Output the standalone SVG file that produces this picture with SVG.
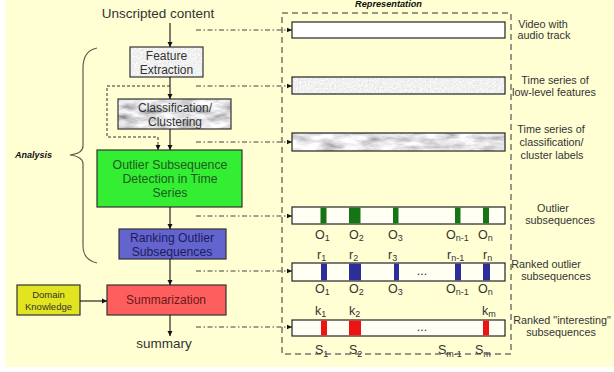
<svg xmlns="http://www.w3.org/2000/svg" width="614" height="372" viewBox="0 0 614 372">
<style>
text{font-family:"Liberation Sans",Arial,sans-serif;fill:#333}
.box{stroke:#333;stroke-width:1.2}
.bar{fill:#fffff4;stroke:#222;stroke-width:1.2}
.arr{stroke:#111;stroke-width:1.1;fill:none;marker-end:url(#ah)}
.dd{stroke:#444;stroke-width:1;fill:none;stroke-dasharray:5,2.5,1.5,2.5;marker-end:url(#ah2)}
.lbl{font-size:10.8px;text-anchor:middle}
.sym{font-size:12.5px}
.sub{font-size:9px}
.g{fill:#137513}.b{fill:#2e2e9a}.r{fill:#ee1414}
</style>
<defs>
<marker id="ah" markerWidth="6" markerHeight="6" refX="5" refY="3" orient="auto" markerUnits="userSpaceOnUse"><path d="M0,0.5 L5,3 L0,5.5 Z" fill="#111"/></marker>
<marker id="ah2" markerWidth="6" markerHeight="6" refX="5" refY="3" orient="auto" markerUnits="userSpaceOnUse"><path d="M0,0.8 L5,3 L0,5.2 Z" fill="#111"/></marker>
<filter id="speck" x="0" y="0" width="100%" height="100%">
<feTurbulence type="fractalNoise" baseFrequency="0.6" numOctaves="2" seed="2"/>
<feColorMatrix type="matrix" values="0.4 0 0 0 0.68  0.4 0 0 0 0.68  0.4 0 0 0 0.68  0 0 0 0 1"/>
<feComposite in2="SourceGraphic" operator="in"/>
</filter>
<filter id="marble" x="0" y="0" width="100%" height="100%">
<feTurbulence type="fractalNoise" baseFrequency="0.05 0.14" numOctaves="4" seed="7"/>
<feColorMatrix type="matrix" values="1.1 0 0 0 0.26  1.1 0 0 0 0.26  1.1 0 0 0 0.28  0 0 0 0 1"/>
<feComposite in2="SourceGraphic" operator="in"/>
</filter>
<filter id="marble2" x="0" y="0" width="100%" height="100%">
<feTurbulence type="fractalNoise" baseFrequency="0.05 0.14" numOctaves="4" seed="7"/>
<feColorMatrix type="matrix" values="1.3 0 0 0 0.08  1.3 0 0 0 0.08  1.3 0 0 0 0.1  0 0 0 0 1"/>
<feComposite in2="SourceGraphic" operator="in"/>
</filter>
</defs>
<rect x="0" y="0" width="614" height="372" fill="#ffffff"/>
<rect x="5" y="0" width="609" height="367" fill="#ffffd3"/>

<text x="158" y="18" style="font-size:13.5px" text-anchor="middle">Unscripted content</text>
<text x="164" y="348" style="font-size:13.5px" text-anchor="middle">summary</text>

<g id="brace">
<path d="M97,48 C87,50 83,57 83,68 L83,146 C83,151 78,154 70,155 C78,156 83,159 83,164 L83,246 C83,256 88,261 97,263" fill="none" stroke="#5e5e4a" stroke-width="1.2"/>
<text x="15" y="158" style="font-size:9px;font-weight:bold;font-style:italic;fill:#111">Analysis</text>
</g>

<g id="feature">
<rect x="130" y="47" width="73" height="30" fill="#fff" filter="url(#speck)"/>
<rect class="box" x="130" y="47" width="73" height="30" fill="none"/>
<text x="166.5" y="60" style="font-size:12px" text-anchor="middle">Feature</text>
<text x="166.5" y="74" style="font-size:12px" text-anchor="middle">Extraction</text>
</g>

<g id="classif">
<rect x="118" y="99" width="113" height="30" fill="#fff" filter="url(#marble2)"/>
<rect class="box" x="118" y="99" width="113" height="30" fill="none"/>
<text x="175" y="112" style="font-size:12px" text-anchor="middle">Classification/</text>
<text x="175" y="125.5" style="font-size:12px" text-anchor="middle">Clustering</text>
</g>

<g id="outlier">
<rect class="box" x="97" y="150" width="145" height="57" fill="#33ee33"/>
<text x="170" y="169" style="font-size:12.3px;fill:#1f5a1f" text-anchor="middle">Outlier Subsequence</text>
<text x="170" y="183" style="font-size:12.3px;fill:#1f5a1f" text-anchor="middle">Detection in Time</text>
<text x="170" y="197" style="font-size:12.3px;fill:#1f5a1f" text-anchor="middle">Series</text>
</g>

<g id="ranking">
<rect class="box" x="119" y="229" width="107" height="30" fill="#6464cf"/>
<text x="172" y="242" style="font-size:12.2px;fill:#1c1c5c" text-anchor="middle">Ranking Outlier</text>
<text x="172" y="255.5" style="font-size:12.2px;fill:#1c1c5c" text-anchor="middle">Subsequences</text>
</g>

<g id="summ">
<rect class="box" x="107" y="285" width="119" height="30" fill="#ff5e5e"/>
<text x="166" y="304" style="font-size:12px;fill:#6a1a1a" text-anchor="middle">Summarization</text>
</g>

<g id="domain">
<rect class="box" x="17" y="285" width="63" height="30" fill="#e1e41f"/>
<text x="48.5" y="298" style="font-size:9.5px" text-anchor="middle">Domain</text>
<text x="48.5" y="309.5" style="font-size:9.5px" text-anchor="middle">Knowledge</text>
</g>

<g id="connectors">
<line class="arr" x1="170" y1="23" x2="170" y2="47"/>
<line class="arr" x1="170" y1="77" x2="170" y2="99"/>
<line class="arr" x1="170" y1="129" x2="170" y2="150"/>
<line class="arr" x1="170" y1="207" x2="170" y2="229"/>
<line class="arr" x1="170" y1="259" x2="170" y2="285"/>
<line class="arr" x1="170" y1="315" x2="170" y2="336"/>
<line class="arr" x1="80" y1="301" x2="107" y2="301"/>
<path d="M170,86 L107,86 L107,137 L158,137 L158,150" fill="none" stroke="#333" stroke-width="1" stroke-dasharray="3,2" marker-end="url(#ah)"/>
<line class="dd" x1="196" y1="30" x2="292" y2="30"/>
<line class="dd" x1="196" y1="86" x2="292" y2="86"/>
<line class="dd" x1="196" y1="142" x2="292" y2="142"/>
<line class="dd" x1="196" y1="216" x2="292" y2="216"/>
<line class="dd" x1="196" y1="271" x2="292" y2="271"/>
<line class="dd" x1="196" y1="327" x2="292" y2="327"/>
</g>

<g id="representation">
<rect x="282" y="13" width="229" height="341" fill="none" stroke="#333" stroke-width="1" stroke-dasharray="6,4"/>
<text x="388.5" y="7" style="font-size:9.2px;font-weight:bold;font-style:italic;fill:#111" text-anchor="middle">Representation</text>
</g>

<g id="row1">
<rect x="292" y="22" width="213" height="16" fill="#fff" stroke="#222" stroke-width="1.2"/>
<text class="lbl" x="543" y="27.5">Video with</text>
<text class="lbl" x="544" y="39">audio track</text>
</g>

<g id="row2">
<rect x="292" y="77" width="213" height="17" fill="#fff" filter="url(#speck)"/>
<rect x="292" y="77" width="213" height="17" fill="none" stroke="#222" stroke-width="1.2"/>
<text class="lbl" x="555" y="84">Time series of</text>
<text class="lbl" x="554" y="95.5">low-level features</text>
</g>

<g id="row3">
<rect x="292" y="133" width="213" height="18" fill="#fff" filter="url(#marble)"/>
<rect x="292" y="133" width="213" height="18" fill="none" stroke="#222" stroke-width="1.2"/>
<text class="lbl" x="551" y="133">Time series of</text>
<text class="lbl" x="551.5" y="146">classification/</text>
<text class="lbl" x="552" y="159">cluster labels</text>
</g>

<g id="row4">
<rect class="bar" x="292" y="207" width="213" height="17"/>
<rect class="g" x="320.5" y="207.6" width="6" height="15.8"/>
<rect class="g" x="349" y="207.6" width="11.5" height="15.8"/>
<rect class="g" x="393" y="207.6" width="5.5" height="15.8"/>
<rect class="g" x="455" y="207.6" width="5.5" height="15.8"/>
<rect class="g" x="483" y="207.6" width="6" height="15.8"/>
<text class="sym" x="315" y="238.5">O<tspan class="sub" dy="2.5">1</tspan></text>
<text class="sym" x="349" y="238.5">O<tspan class="sub" dy="2.5">2</tspan></text>
<text class="sym" x="388" y="238.5">O<tspan class="sub" dy="2.5">3</tspan></text>
<text class="sym" x="446" y="238.5">O<tspan class="sub" dy="2.5">n-1</tspan></text>
<text class="sym" x="478" y="238.5">O<tspan class="sub" dy="2.5">n</tspan></text>
<text class="lbl" x="553" y="211.5">Outlier</text>
<text class="lbl" x="560" y="223.5">subsequences</text>
</g>

<g id="row5">
<rect class="bar" x="292" y="263" width="213" height="18"/>
<rect class="b" x="321" y="263.6" width="6" height="16.8"/>
<rect class="b" x="349" y="263.6" width="12" height="16.8"/>
<rect class="b" x="394" y="263.6" width="5" height="16.8"/>
<rect class="b" x="455" y="263.6" width="6" height="16.8"/>
<rect class="b" x="483" y="263.6" width="7" height="16.8"/>
<text class="sym" x="317" y="258.5">r<tspan class="sub" dy="2.5">1</tspan></text>
<text class="sym" x="349" y="258.5">r<tspan class="sub" dy="2.5">2</tspan></text>
<text class="sym" x="388" y="258.5">r<tspan class="sub" dy="2.5">3</tspan></text>
<text class="sym" x="447" y="258.5">r<tspan class="sub" dy="2.5">n-1</tspan></text>
<text class="sym" x="483" y="258.5">r<tspan class="sub" dy="2.5">n</tspan></text>
<text class="sym" x="422" y="275" text-anchor="middle">...</text>
<text class="sym" x="315" y="292.5">O<tspan class="sub" dy="2.5">1</tspan></text>
<text class="sym" x="349" y="292.5">O<tspan class="sub" dy="2.5">2</tspan></text>
<text class="sym" x="388" y="292.5">O<tspan class="sub" dy="2.5">3</tspan></text>
<text class="sym" x="446" y="292.5">O<tspan class="sub" dy="2.5">n-1</tspan></text>
<text class="sym" x="478" y="292.5">O<tspan class="sub" dy="2.5">n</tspan></text>
<text class="lbl" x="546" y="268">Ranked outlier</text>
<text class="lbl" x="556" y="279.5">subsequences</text>
</g>

<g id="row6">
<rect class="bar" x="292" y="320" width="213" height="16"/>
<rect class="r" x="321" y="320.6" width="6" height="14.8"/>
<rect class="r" x="349" y="320.6" width="12" height="14.8"/>
<rect class="r" x="483" y="320.6" width="6" height="14.8"/>
<text class="sym" x="315" y="314.5">k<tspan class="sub" dy="2.5">1</tspan></text>
<text class="sym" x="349" y="314.5">k<tspan class="sub" dy="2.5">2</tspan></text>
<text class="sym" x="482" y="314.5">k<tspan class="sub" dy="2.5">m</tspan></text>
<text class="sym" x="422" y="331" text-anchor="middle">...</text>
<text class="sym" x="315" y="354">S<tspan class="sub" dy="2.5">1</tspan></text>
<text class="sym" x="349" y="354">S<tspan class="sub" dy="2.5">2</tspan></text>
<text class="sym" x="438" y="354">S<tspan class="sub" dy="2.5">m-1</tspan></text>
<text class="sym" x="475" y="354">S<tspan class="sub" dy="2.5">m</tspan></text>
<text class="lbl" x="562" y="324">Ranked "interesting"</text>
<text class="lbl" x="561" y="335.5">subsequences</text>
</g>
</svg>
